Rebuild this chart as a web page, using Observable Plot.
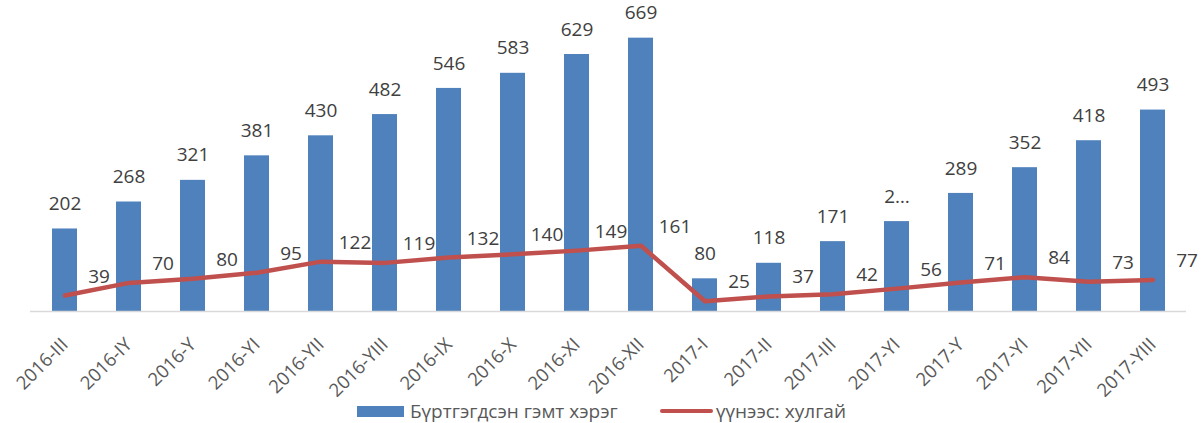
<!DOCTYPE html>
<html>
<head>
<meta charset="utf-8">
<script src="https://cdn.jsdelivr.net/npm/d3@7"></script>
<script src="https://cdn.jsdelivr.net/npm/@observablehq/plot@0.6"></script>
<style>
  html, body { margin: 0; padding: 0; background: #fff; }
  #chart { width: 1203px; height: 423px; position: relative; font-family: "Open Sans", sans-serif; }
  #chart svg g[aria-label="x-axis tick label"] text { font-size: 18.5px; }
  .legend-item { position: absolute; top: 398px; height: 26px; display: flex; align-items: center; font-size: 19px; color: #595959; white-space: nowrap; }
  .sw-bar { width: 47px; height: 11px; background: #4f81bd; margin-right: 6px; }
  .sw-line { width: 53px; height: 4px; background: #c0504d; border-radius: 2px; margin-right: 3px; }
</style>
</head>
<body>
<div id="chart"></div>
<script>
const categories = ["2016-III","2016-IY","2016-Y","2016-YI","2016-YII","2016-YIII","2016-IX","2016-X","2016-XI","2016-XII","2017-I","2017-II","2017-III","2017-YI","2017-Y","2017-YI ","2017-YII","2017-YIII"];
const tickLabels = ["2016-III","2016-IY","2016-Y","2016-YI","2016-YII","2016-YIII","2016-IX","2016-X","2016-XI","2016-XII","2017-I","2017-II","2017-III","2017-YI","2017-Y","2017-YI","2017-YII","2017-YIII"];
const registered = [202,268,321,381,430,482,546,583,629,669,80,118,171,220,289,352,418,493];
const registeredLabels = ["202","268","321","381","430","482","546","583","629","669","80","118","171","2…","289","352","418","493"];
const theft = [39,70,80,95,122,119,132,140,149,161,25,37,42,56,71,84,73,77];
const seriesNames = ["Бүртгэгдсэн гэмт хэрэг", "үүнээс: хулгай"];

const data = categories.map((c, i) => ({cat: c, tick: tickLabels[i], reg: registered[i], regLabel: registeredLabels[i], theft: theft[i]}));
const tickMap = new Map(data.map(d => [d.cat, d.tick]));

const plot = Plot.plot({
  width: 1203,
  height: 395,
  marginLeft: 30,
  marginRight: 17,
  marginTop: 25,
  marginBottom: 84,
  style: {fontFamily: "Open Sans, sans-serif", fontSize: "17px", background: "#fff", overflow: "visible"},
  x: {type: "band", domain: categories, paddingInner: 0.61, paddingOuter: 0.305, label: null},
  y: {domain: [0, 700], axis: null},
  marks: [
    Plot.barY(data, {x: "cat", y: "reg", fill: "#4f81bd"}),
    Plot.ruleY([0], {stroke: "#d9d9d9", strokeWidth: 1.5}),
    Plot.line(data, {x: "cat", y: "theft", stroke: "#c0504d", strokeWidth: 4.5, strokeLinejoin: "round", strokeLinecap: "round"}),
    Plot.text(data, {x: "cat", y: "reg", text: "regLabel", dy: -25, fill: "#404040", fontSize: 19}),
    Plot.text(data, {x: "cat", y: "theft", text: d => String(d.theft), dx: 34, dy: -19, fill: "#404040", fontSize: 19}),
    Plot.axisX({tickRotate: -45, tickSize: 0, tickPadding: 30, fill: "#595959", tickFormat: d => tickMap.get(d), label: null})
  ]
});

const chart = document.getElementById("chart");
chart.appendChild(plot);
const items = [
  {left: 357, sw: "sw-bar", name: seriesNames[0]},
  {left: 660, sw: "sw-line", name: seriesNames[1]}
];
for (const it of items) {
  const div = document.createElement("div");
  div.className = "legend-item";
  div.style.left = it.left + "px";
  div.innerHTML = `<span class="${it.sw}"></span><span>${it.name}</span>`;
  chart.appendChild(div);
}
</script>
</body>
</html>
